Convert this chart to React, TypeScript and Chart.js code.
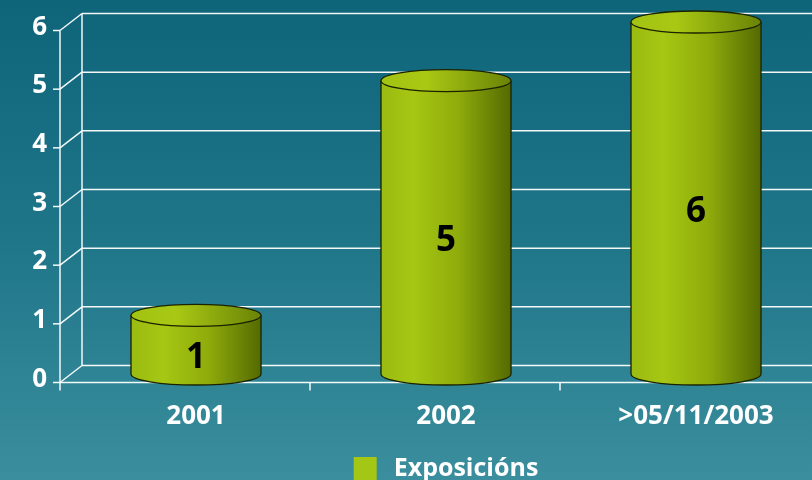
import React, { useEffect, useRef } from "react";
import { Chart, registerables } from "chart.js";

Chart.register(...registerables);

// ---- data ----
const CATEGORIES = ["2001", "2002", ">05/11/2003"];
const SERIES_LABEL = "Exposicións";
const VALUES = [1, 5, 6];
const Y_TICKS = [0, 1, 2, 3, 4, 5, 6];

// ---- layout / style ----
const W = 840;
const H = 480;
const FONT = '"Open Sans", "DejaVu Sans", sans-serif';
const DEPTH = { x: 11, y: -8.5 };
const RY = 11;
const LINE = "rgba(255,255,255,0.95)";

const backgroundPlugin = {
  id: "bg3d",
  beforeDraw(chart: any) {
    const { ctx } = chart;
    const g = ctx.createLinearGradient(0, 0, 0, H);
    g.addColorStop(0, "#0e6479");
    g.addColorStop(0.5, "#1f7689");
    g.addColorStop(1, "#3a8e9d");
    ctx.save();
    ctx.fillStyle = g;
    ctx.fillRect(0, 0, chart.width, chart.height);
    ctx.restore();
  },
  beforeDatasetsDraw(chart: any) {
    const { ctx, chartArea } = chart;
    const ys = chart.scales.y;
    const xs = chart.scales.x;
    const left = chartArea.left;
    const fx = left - DEPTH.x;
    const bx = left + DEPTH.x;
    const yTop = ys.getPixelForValue(Y_TICKS[Y_TICKS.length - 1]);
    const yZero = ys.getPixelForValue(0);
    ctx.save();
    ctx.strokeStyle = LINE;
    ctx.lineWidth = 1.5;
    // back wall grid lines + diagonals + front ticks
    Y_TICKS.forEach((v) => {
      const ym = ys.getPixelForValue(v);
      ctx.beginPath();
      ctx.moveTo(bx, ym + DEPTH.y);
      ctx.lineTo(chart.width, ym + DEPTH.y);
      ctx.stroke();
      ctx.beginPath();
      ctx.moveTo(fx, ym - DEPTH.y);
      ctx.lineTo(bx, ym + DEPTH.y);
      ctx.stroke();
      ctx.beginPath();
      ctx.moveTo(fx - 7, ym - DEPTH.y);
      ctx.lineTo(fx, ym - DEPTH.y);
      ctx.stroke();
    });
    // back wall left edge
    ctx.beginPath();
    ctx.moveTo(bx, yTop + DEPTH.y);
    ctx.lineTo(bx, yZero + DEPTH.y);
    ctx.stroke();
    // front axis
    ctx.beginPath();
    ctx.moveTo(fx, yTop - DEPTH.y);
    ctx.lineTo(fx, yZero - DEPTH.y + 8);
    ctx.stroke();
    // floor front edge
    const y0f = yZero - DEPTH.y;
    ctx.beginPath();
    ctx.moveTo(fx, y0f);
    ctx.lineTo(chart.width, y0f);
    ctx.stroke();
    // category ticks
    for (let i = 0; i < CATEGORIES.length - 1; i++) {
      const xb = (xs.getPixelForValue(i) + xs.getPixelForValue(i + 1)) / 2 - DEPTH.x;
      ctx.beginPath();
      ctx.moveTo(xb, y0f);
      ctx.lineTo(xb, y0f + 8);
      ctx.stroke();
    }
    // y tick labels
    ctx.fillStyle = "#ffffff";
    ctx.font = `bold 26px ${FONT}`;
    ctx.textAlign = "right";
    ctx.textBaseline = "alphabetic";
    Y_TICKS.forEach((v) => {
      const yf = ys.getPixelForValue(v) - DEPTH.y;
      ctx.fillText(String(v), fx - 13, yf - 5 + 9.3);
    });
    // category labels
    ctx.textAlign = "center";
    CATEGORIES.forEach((c, i) => {
      ctx.fillText(c, xs.getPixelForValue(i), y0f + 41);
    });
    ctx.restore();
  },
  afterDatasetsDraw(chart: any) {
    const { ctx, chartArea } = chart;
    const meta = chart.getDatasetMeta(0);
    ctx.save();
    meta.data.forEach((el: any, i: number) => {
      const { x, y, base, width } = el.getProps(["x", "y", "base", "width"], true);
      const rx = width / 2;
      const side = ctx.createLinearGradient(x - rx, 0, x + rx, 0);
      side.addColorStop(0, "#9abb10");
      side.addColorStop(0.25, "#a6c713");
      side.addColorStop(0.6, "#8eab0b");
      side.addColorStop(1, "#546a02");
      ctx.beginPath();
      ctx.moveTo(x - rx, y);
      ctx.lineTo(x - rx, base);
      ctx.ellipse(x, base, rx, RY, 0, Math.PI, 0, true);
      ctx.lineTo(x + rx, y);
      ctx.ellipse(x, y, rx, RY, 0, 0, Math.PI, true);
      ctx.closePath();
      ctx.fillStyle = side;
      ctx.fill();
      ctx.beginPath();
      ctx.moveTo(x - rx, y);
      ctx.lineTo(x - rx, base);
      ctx.ellipse(x, base, rx, RY, 0, Math.PI, 0, true);
      ctx.lineTo(x + rx, y);
      ctx.strokeStyle = "#1a2200";
      ctx.lineWidth = 1.3;
      ctx.stroke();
      const top = ctx.createLinearGradient(x - rx, 0, x + rx, 0);
      top.addColorStop(0, "#a2c312");
      top.addColorStop(0.35, "#a8c814");
      top.addColorStop(1, "#6a8306");
      ctx.beginPath();
      ctx.ellipse(x, y, rx, RY, 0, 0, Math.PI * 2);
      ctx.fillStyle = top;
      ctx.fill();
      ctx.stroke();
      // value label
      ctx.fillStyle = "#000000";
      ctx.font = `bold 35px ${FONT}`;
      ctx.textAlign = "center";
      ctx.textBaseline = "alphabetic";
      const cy = (y + base) / 2 + RY;
      ctx.fillText(String(VALUES[i]), x, cy + 12.5);
    });
    // legend
    ctx.font = `bold 25px ${FONT}`;
    const label = chart.data.datasets[0].label;
    const tw = ctx.measureText(label).width;
    const sq = 23;
    const gap = 17;
    const total = sq + gap + tw;
    const cx = (chartArea.left + chartArea.right) / 2;
    const sx = cx - total / 2;
    ctx.fillStyle = "#a4c614";
    ctx.fillRect(sx, 457, sq, sq);
    ctx.fillStyle = "#ffffff";
    ctx.textAlign = "left";
    ctx.fillText(label, sx + sq + gap, 476);
    ctx.restore();
  },
};

export default function App() {
  const ref = useRef<HTMLCanvasElement | null>(null);
  useEffect(() => {
    if (!ref.current) return;
    const chart = new Chart(ref.current, {
      type: "bar",
      data: {
        labels: CATEGORIES,
        datasets: [
          {
            label: SERIES_LABEL,
            data: VALUES,
            backgroundColor: "rgba(0,0,0,0)",
            borderWidth: 0,
            barPercentage: 0.52,
            categoryPercentage: 1,
          },
        ],
      },
      options: {
        responsive: false,
        animation: false,
        devicePixelRatio: 1,
        layout: { padding: { left: 71, right: W - 821, top: 22, bottom: H - 374 } },
        scales: {
          x: { display: false, offset: true },
          y: { display: false, min: 0, max: 6 },
        },
        plugins: { legend: { display: false }, tooltip: { enabled: false } },
        events: [],
      },
      plugins: [backgroundPlugin],
    });
    return () => chart.destroy();
  }, []);
  return (
    <div style={{ position: "fixed", left: 0, top: 0, width: 812, height: 480, overflow: "hidden" }}>
      <canvas ref={ref} width={W} height={H} style={{ display: "block", width: W, height: H }} />
    </div>
  );
}
